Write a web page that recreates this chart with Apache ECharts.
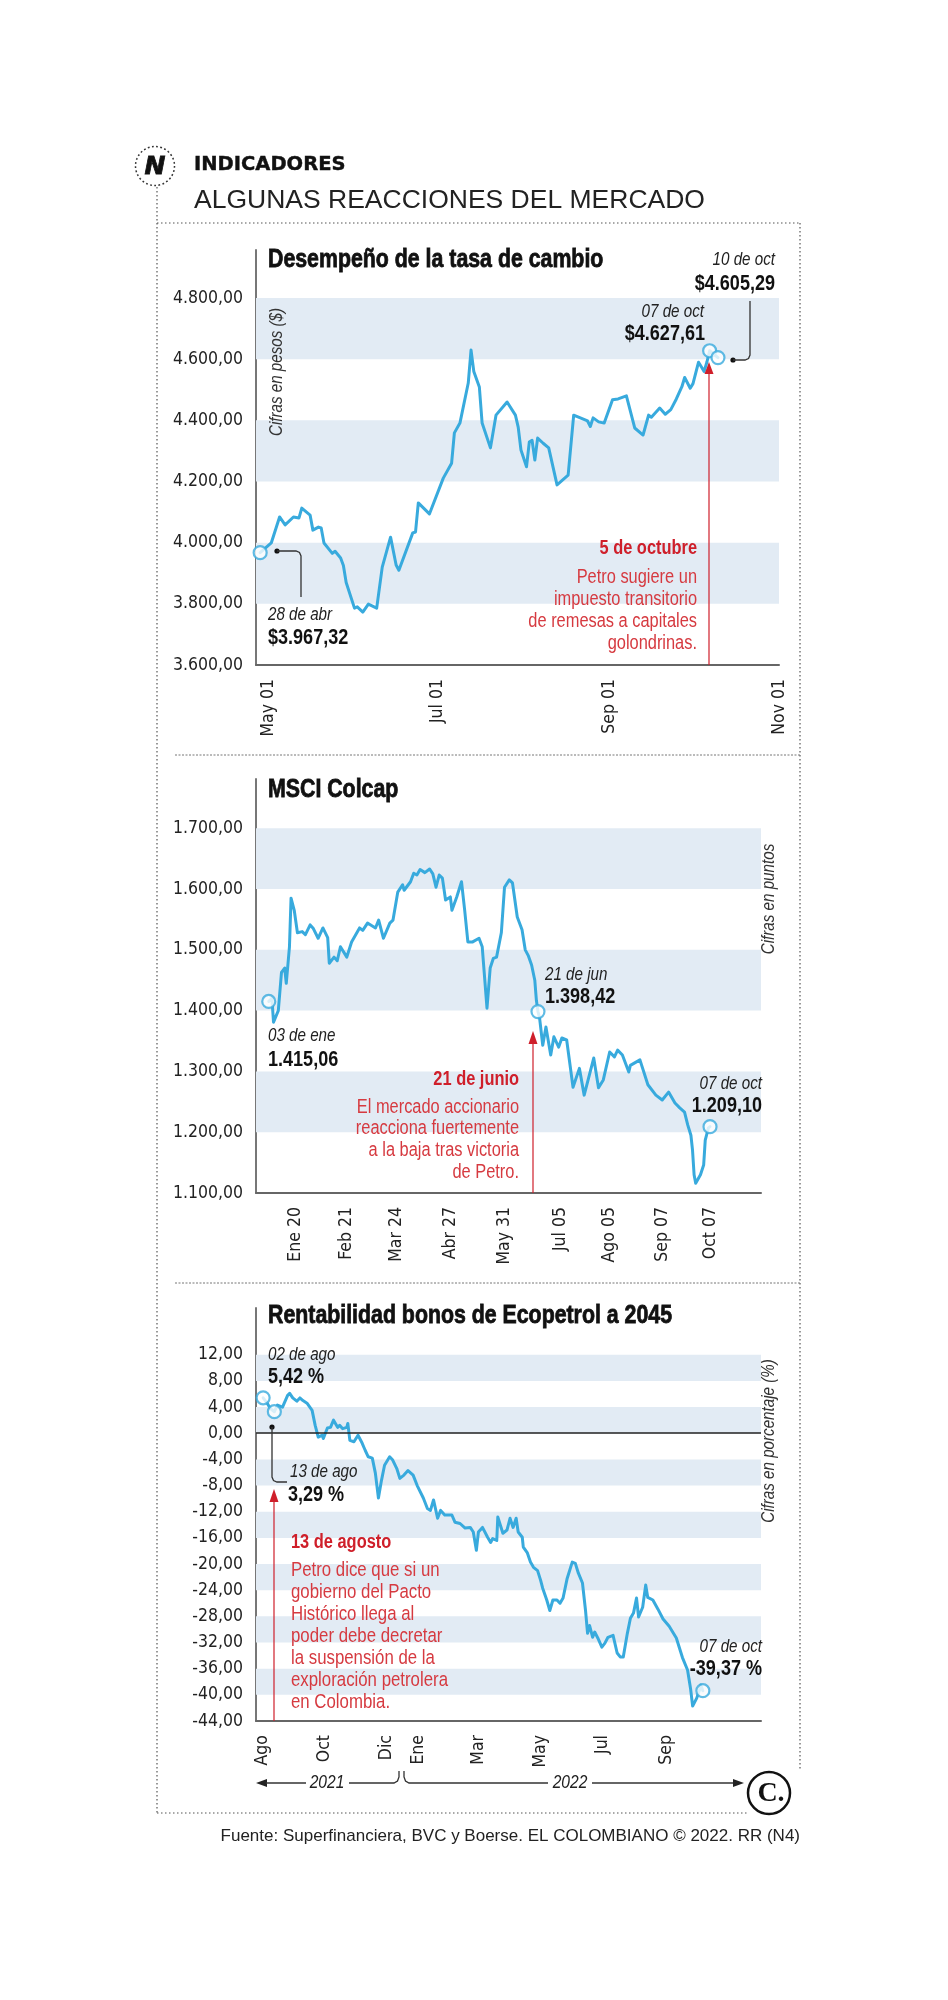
<!DOCTYPE html>
<html><head><meta charset="utf-8">
<script src="https://cdn.jsdelivr.net/npm/echarts@6/dist/echarts.min.js"></script>
<style>html,body{margin:0;padding:0;background:#fff}#c{width:948px;height:2000px}</style>
</head><body><div id="c"></div>
<script>
// ================= DATA =================
// Chart 1: tasa de cambio (day offset from fxStart, pesos)
const fxStart = '2022-04-28';
const fxData = [[0,3967.32],[4,3999],[7,4084],[9,4058],[12,4084],[14,4081],[15,4113],[18,4090],[19,4041],[21,4051],[22,4048],[23,3999],[26,3965],[27,3972],[29,3950],[30,3925],[31,3870],[34,3786],[35,3790],[37,3773],[39,3799],[42,3786],[44,3920],[47,4018],[49,3927],[50,3910],[55,4032],[56,4035],[57,4130],[61,4094],[66,4211],[69,4260],[70,4359],[72,4391],[75,4522],[76,4630],[77,4560],[79,4509],[80,4391],[83,4310],[85,4417],[89,4460],[92,4417],[93,4378],[94,4303],[96,4248],[97,4329],[98,4335],[99,4270],[100,4342],[102,4325],[104,4310],[107,4189],[111,4221],[113,4417],[118,4398],[119,4380],[120,4408],[122,4395],[124,4391],[127,4467],[129,4470],[132,4480],[135,4375],[138,4352],[140,4417],[141,4410],[144,4440],[146,4420],[148,4435],[150,4470],[152,4510],[153,4540],[155,4505],[156,4520],[158,4590],[159,4575],[160,4560],[161,4590],[162,4627.61],[165,4605.29]];
const fxMarkDays = [0,162,165];
const fxTicks = ['2022-05-01','2022-07-01','2022-09-01','2022-11-01'];
const fxTickLabels = ['May 01','Jul 01','Sep 01','Nov 01'];
const fxYTicks = [3600,3800,4000,4200,4400,4600,4800];
const fxBands = [[3800,4000],[4200,4400],[4600,4800]];

// Chart 2: MSCI Colcap (day offset from colStart, puntos)
const colStart = '2022-01-03';
const colData = [[0,1415.06],[2,1420],[3,1381],[6,1400],[8,1463],[10,1470],[11,1445],[13,1505],[14,1585],[16,1565],[18,1528],[21,1530],[23,1525],[26,1541],[28,1535],[31,1519],[34,1536],[37,1520],[38,1478],[41,1488],[43,1482],[45,1505],[49,1488],[52,1513],[57,1536],[59,1532],[62,1544],[67,1536],[69,1549],[72,1519],[76,1544],[78,1549],[81,1595],[84,1607],[85,1598],[89,1612],[91,1626],[93,1623],[95,1632],[98,1627],[101,1633],[103,1625],[105,1603],[107,1623],[109,1618],[111,1582],[114,1587],[115,1565],[118,1587],[121,1612],[123,1565],[125,1513],[128,1513],[132,1519],[134,1505],[137,1404],[139,1470],[141,1486],[143,1488],[146,1528],[148,1603],[151,1615],[153,1610],[156,1554],[159,1533],[161,1500],[163,1490],[165,1475],[167,1450],[168,1417],[169,1398.42],[170,1388],[172,1343],[174,1373],[177,1327],[179,1357],[182,1340],[184,1355],[187,1352],[191,1274],[195,1305],[198,1261],[204,1322],[207,1273],[210,1286],[214,1332],[217,1324],[219,1335],[222,1327],[226,1299],[227,1310],[233,1319],[238,1278],[243,1261],[247,1253],[251,1266],[255,1248],[258,1240],[261,1233],[263,1212],[265,1195],[266,1171],[267,1130],[268,1116],[271,1130],[273,1146],[274,1187],[276,1207],[277,1209.10]];
const colMarkDays = [0,169,277];
const colTicks = ['2022-01-20','2022-02-21','2022-03-24','2022-04-27','2022-05-31','2022-07-05','2022-08-05','2022-09-07','2022-10-07'];
const colTickLabels = ['Ene 20','Feb 21','Mar 24','Abr 27','May 31','Jul 05','Ago 05','Sep 07','Oct 07'];
const colYTicks = [1100,1200,1300,1400,1500,1600,1700];
const colBands = [[1200,1300],[1400,1500],[1600,1700]];

// Chart 3: Rentabilidad bonos Ecopetrol 2045 (day offset from ecoStart, %)
const ecoStart = '2021-08-01';
const ecoData = [[1,5.42],[5,4.6],[8,3.8],[12,3.29],[15,4.3],[20,4.0],[25,5.8],[27,6.1],[30,5.4],[34,4.9],[37,5.4],[40,5.0],[44,4.6],[49,3.5],[52,1.2],[55,-0.6],[59,-0.3],[60,-0.8],[64,0.8],[67,0.9],[70,2.0],[74,0.9],[76,1.2],[79,0.7],[83,0.9],[84,1.5],[86,-1.1],[90,-1.3],[94,-0.3],[98,-1.5],[101,-2.6],[104,-3.6],[108,-3.8],[111,-6.1],[114,-9.9],[117,-7.2],[120,-4.9],[125,-3.6],[128,-4.1],[132,-5.4],[135,-6.9],[139,-6.4],[143,-5.7],[148,-6.4],[152,-8.0],[158,-9.9],[162,-11.5],[165,-11.8],[168,-10.2],[172,-13.0],[175,-11.8],[179,-12.5],[186,-12.5],[189,-13.6],[194,-13.8],[199,-14.5],[204,-14.4],[207,-15.1],[210,-17.9],[212,-15.1],[216,-14.4],[221,-15.9],[224,-16.7],[226,-16.1],[230,-16.4],[231,-12.8],[236,-15.3],[240,-14.8],[243,-13.0],[246,-14.4],[249,-13.0],[251,-15.1],[255,-15.9],[256,-17.4],[260,-18.3],[263,-19.7],[266,-20.5],[270,-21.0],[273,-22.5],[275,-23.7],[279,-25.5],[282,-27.1],[285,-25.5],[289,-25.5],[292,-26.0],[295,-25.2],[299,-22.2],[304,-19.7],[307,-19.9],[310,-21.4],[314,-22.9],[317,-27.1],[319,-30.6],[321,-29.4],[324,-31.2],[326,-30.4],[329,-31.3],[333,-32.7],[336,-32.1],[339,-31.2],[344,-30.9],[348,-33.6],[351,-34.2],[354,-34.2],[358,-30.6],[361,-28.3],[364,-27.5],[367,-25.2],[369,-28.1],[373,-26.6],[376,-23.2],[378,-25.1],[383,-25.5],[388,-26.9],[393,-28.4],[399,-29.5],[406,-31.3],[412,-34.3],[417,-36.2],[420,-39.1],[422,-41.7],[426,-40.5],[429,-39.1],[430,-38.5],[432,-39.37]];
const ecoMarkDays = [1,12,432];
const ecoTicks = ['2021-08-01','2021-10-01','2021-12-01','2022-01-01','2022-03-01','2022-05-01','2022-07-01','2022-09-01'];
const ecoTickLabels = ['Ago','Oct','Dic','Ene','Mar','May','Jul','Sep'];
const ecoYTicks = [12,8,4,0,-4,-8,-12,-16,-20,-24,-28,-32,-36,-40,-44];
const ecoBands = [[8,12],[0,4],[-8,-4],[-16,-12],[-24,-20],[-32,-28],[-40,-36]];

// ================= HELPERS =================
const DAY = 86400000;
function ts(s){const p=s.split('-').map(Number);return Date.UTC(p[0],p[1]-1,p[2]);}
function toSeries(start,arr){const t0=ts(start);return arr.map(p=>[t0+p[0]*DAY,p[1]]);}
function pick(arr,days){return arr.filter(p=>days.indexOf(p[0])>=0);}
function fmtNum(v){const neg=v<0;const s=Math.abs(v).toFixed(2).split('.');return (neg?'-':'')+s[0].replace(/\B(?=(\d{3})+(?!\d))/g,'.')+','+s[1];}

const COND = "'DejaVu Sans Condensed','DejaVu Sans',sans-serif";
const SANS = "'Liberation Sans',Arial,sans-serif";
const NX = 0.82; // horizontal squeeze to imitate a condensed face
const BLUE = '#38aadd';
const BAND = '#e2ebf4';
const RED_B = '#cf1f2a';
const RED = '#d63a40';

const panels = [
  {start:fxStart,data:fxData,marks:fxMarkDays,ticks:fxTicks,labels:fxTickLabels,yTicks:fxYTicks,bands:fxBands,
   xmin:ts('2022-04-28')-1.5*DAY,xmax:ts('2022-11-01'),ymin:3600,ymax:4957,grid:{left:256,top:250,width:523,height:415}},
  {start:colStart,data:colData,marks:colMarkDays,ticks:colTicks,labels:colTickLabels,yTicks:colYTicks,bands:colBands,
   xmin:ts('2021-12-26'),xmax:ts('2022-11-08'),ymin:1100,ymax:1781,grid:{left:256,top:779,width:505,height:414}},
  {start:ecoStart,data:ecoData,marks:ecoMarkDays,ticks:ecoTicks,labels:ecoTickLabels,yTicks:ecoYTicks,bands:ecoBands,
   xmin:ts('2021-07-26'),xmax:ts('2022-12-03'),ymin:-44,ymax:19.15,grid:{left:256,top:1308,width:505,height:413},zero:true}
];

const grids=[],xAxes=[],yAxes=[],series=[];
panels.forEach((p,i)=>{
  grids.push(Object.assign({containLabel:false,outerBoundsMode:'none'},p.grid));
  const tickTs=p.ticks.map(ts);
  xAxes.push({type:'value',gridIndex:i,min:p.xmin,max:p.xmax,scale:true,
    axisLine:{show:true,onZero:false,lineStyle:{color:'#666',width:2}},
    axisTick:{show:false},splitLine:{show:false},
    axisLabel:{customValues:tickTs,rotate:90,margin:14,fontFamily:COND,fontSize:17.5,color:'#222',hideOverlap:false,
      formatter:function(v){const k=tickTs.indexOf(v);return k>=0?p.labels[k]:'';}}});
  yAxes.push({type:'value',gridIndex:i,min:p.ymin,max:p.ymax,
    axisLine:{show:true,onZero:false,lineStyle:{color:'#777',width:2}},
    axisTick:{show:false},splitLine:{show:false},
    axisLabel:{customValues:p.yTicks,margin:13,fontFamily:COND,fontSize:17.5,color:'#222',formatter:fmtNum}});
  const line={type:'line',xAxisIndex:i,yAxisIndex:i,data:toSeries(p.start,p.data),symbol:'none',
    lineStyle:{color:BLUE,width:3,join:'round',cap:'round'},z:3,silent:true,
    markArea:{silent:true,itemStyle:{color:BAND},data:p.bands.map(b=>[{yAxis:b[0]},{yAxis:b[1]}])}};
  if(p.zero){line.markLine={silent:true,symbol:'none',label:{show:false},lineStyle:{color:'#222',width:1.5,type:'solid'},data:[{yAxis:0}]};}
  series.push(line);
  series.push({type:'scatter',xAxisIndex:i,yAxisIndex:i,data:toSeries(p.start,pick(p.data,p.marks)),symbol:'circle',symbolSize:13,
    itemStyle:{color:'#fff',borderColor:BLUE,borderWidth:2.2},z:6,silent:true});
});

// ================= ANNOTATIONS =================
function T(x,y,text,o){o=o||{};const narrow=o.narrow!==false;
  const st={text:text,fill:o.color||'#222',fontFamily:o.family||SANS,fontSize:o.size||20,fontWeight:o.weight||'normal',
    fontStyle:o.style||'normal',align:o.align||'left',verticalAlign:'middle'};
  if(o.heavy){st.stroke=o.color||'#111';st.lineWidth=o.heavy;}
  return {type:'text',x:x,y:y,z:100,rotation:o.rot||0,scaleX:narrow?NX:1,scaleY:1,style:st};}
function L(pts,o){o=o||{};return {type:'polyline',z:100,shape:{points:pts},style:{stroke:o.color||'#333',lineWidth:o.w||1.3,lineDash:o.dash||null,fill:null}};}
function C(cx,cy,r,o){return {type:'circle',z:100,shape:{cx:cx,cy:cy,r:r},style:o};}
function P(pts,fill){return {type:'polygon',z:100,shape:{points:pts},style:{fill:fill}};}
const IT={style:'italic',size:18.5,color:'#222'};
const BD={weight:'bold',size:22,color:'#111'};
const AXN={style:'italic',size:18.5,color:'#333',align:'center',rot:Math.PI/2};
function R(o){return Object.assign({},o,{align:'right'});}
const DOT={stroke:'#555',w:1.2,dash:[1.5,2.5]};
const SEP={stroke:'#777',w:1,dash:[2,1.5]};
const TITLE={weight:'bold',size:26,color:'#111',heavy:0.8};

const g=[];
// header + frame
g.push(C(155,166,19.5,{fill:'none',stroke:'#333',lineWidth:1.5,lineDash:[1.8,2.4]}));
g.push(T(155,167,'N',{family:"'DejaVu Sans',sans-serif",weight:'bold',style:'italic',size:25,color:'#111',align:'center',narrow:false,heavy:0.8}));
g.push(T(194,165,'INDICADORES',{family:"'DejaVu Sans',sans-serif",weight:'bold',size:19.5,color:'#111',narrow:false,heavy:0.4}));
g.push(T(194,201,'ALGUNAS REACCIONES DEL MERCADO',{size:26.5,color:'#222',narrow:false}));
g.push(L([[157,187],[157,1813]],{color:DOT.stroke,w:DOT.w,dash:DOT.dash}));
g.push(L([[157,223],[800,223]],{color:DOT.stroke,w:DOT.w,dash:DOT.dash}));
g.push(L([[800,223],[800,1771]],{color:DOT.stroke,w:DOT.w,dash:DOT.dash}));
g.push(L([[157,1813],[747,1813]],{color:DOT.stroke,w:DOT.w,dash:DOT.dash}));
g.push(L([[175,755],[800,755]],{color:SEP.stroke,w:SEP.w,dash:SEP.dash}));
g.push(L([[175,1283],[800,1283]],{color:SEP.stroke,w:SEP.w,dash:SEP.dash}));
g.push(C(769,1793,21,{fill:'#fff',stroke:'#111',lineWidth:2.5}));
g.push(T(771,1794,'C.',{family:"'Liberation Serif',serif",weight:'bold',size:28,color:'#111',align:'center',narrow:false}));
g.push(T(800,1836,'Fuente: Superfinanciera, BVC y Boerse. EL COLOMBIANO © 2022. RR (N4)',{size:17,color:'#222',align:'right',narrow:false}));

// chart 1
g.push(T(268,260,'Desempeño de la tasa de cambio',TITLE));
g.push(T(277,372,'Cifras en pesos ($)',AXN));
g.push(T(268,615,'28 de abr',IT));
g.push(T(268,638,'$'+fmtNum(fxData[0][1]),BD));
g.push(C(277,551,2.6,{fill:'#111'}));
g.push(L([[277,551],[296,551],[299.5,552.5],[301,556],[301,597]]));
g.push(T(704,312,'07 de oct',R(IT)));
g.push(T(705,334,'$'+fmtNum(fxData[fxData.length-2][1]),R(BD)));
g.push(T(775,260,'10 de oct',R(IT)));
g.push(T(775,284,'$'+fmtNum(fxData[fxData.length-1][1]),R(BD)));
g.push(C(733,360,2.6,{fill:'#111'}));
g.push(L([[733,360],[745,360],[748.5,358.5],[750,355],[750,301]]));
g.push(L([[709,665],[709,372]],{color:RED_B,w:1.2}));
g.push(P([[704.5,374],[713.5,374],[709,362]],RED_B));
g.push(T(697,548,'5 de octubre',{weight:'bold',size:20,color:RED_B,align:'right'}));
['Petro sugiere un','impuesto transitorio','de remesas a capitales','golondrinas.'].forEach((s,k)=>g.push(T(697,577+k*22,s,{size:20,color:RED,align:'right'})));

// chart 2
g.push(T(268,790,'MSCI Colcap',TITLE));
g.push(T(769,899,'Cifras en puntos',AXN));
g.push(T(268,1036,'03 de ene',IT));
g.push(T(268,1060,fmtNum(colData[0][1]),BD));
g.push(T(545,975,'21 de jun',IT));
g.push(T(545,997,fmtNum(pick(colData,[169])[0][1]),BD));
g.push(T(762,1084,'07 de oct',R(IT)));
g.push(T(762,1106,fmtNum(colData[colData.length-1][1]),R(BD)));
g.push(L([[533,1193],[533,1042]],{color:RED_B,w:1.2}));
g.push(P([[528.5,1044],[537.5,1044],[533,1031]],RED_B));
g.push(T(519,1079,'21 de junio',{weight:'bold',size:20,color:RED_B,align:'right'}));
['El mercado accionario','reacciona fuertemente','a la baja tras victoria','de Petro.'].forEach((s,k)=>g.push(T(519,1107+k*21.7,s,{size:20,color:RED,align:'right'})));

// chart 3
g.push(T(268,1316,'Rentabilidad bonos de Ecopetrol a 2045',TITLE));
g.push(T(769,1441,'Cifras en porcentaje (%)',AXN));
g.push(T(268,1355,'02 de ago',IT));
g.push(T(268,1377,fmtNum(ecoData[0][1])+' %',BD));
g.push(C(272,1427,2.6,{fill:'#111'}));
g.push(L([[272,1427],[272,1477],[273.5,1480.5],[277,1482],[287,1482]]));
g.push(T(290,1472,'13 de ago',IT));
g.push(T(288,1495,fmtNum(pick(ecoData,[12])[0][1])+' %',BD));
g.push(T(762,1647,'07 de oct',R(IT)));
g.push(T(762,1669,fmtNum(ecoData[ecoData.length-1][1])+' %',R(BD)));
g.push(L([[274,1721],[274,1500]],{color:RED_B,w:1.2}));
g.push(P([[269.5,1502],[278.5,1502],[274,1489]],RED_B));
g.push(T(291,1542,'13 de agosto',{weight:'bold',size:20,color:RED_B}));
['Petro dice que si un','gobierno del Pacto','Histórico llega al','poder debe decretar','la suspensión de la','exploración petrolera','en Colombia.'].forEach((s,k)=>g.push(T(291,1570+k*22,s,{size:20.5,color:RED})));
// year row
g.push(P([[256,1783],[267,1779],[267,1787]],'#222'));
g.push(L([[266,1783],[306,1783]]));
g.push(T(327,1783,'2021',{style:'italic',size:19,color:'#222',align:'center'}));
g.push(L([[349,1783],[394,1783],[397.5,1781],[399,1777],[399,1771]]));
g.push(L([[404,1771],[404,1777],[405.5,1781],[409,1783],[548,1783]]));
g.push(T(570,1783,'2022',{style:'italic',size:19,color:'#222',align:'center'}));
g.push(L([[592,1783],[734,1783]]));
g.push(P([[744,1783],[733,1779],[733,1787]],'#222'));

const chart = echarts.init(document.getElementById('c'),null,{renderer:'canvas'});
chart.setOption({animation:false,backgroundColor:'#fff',grid:grids,xAxis:xAxes,yAxis:yAxes,series:series,graphic:{elements:g}});
</script></body></html>
